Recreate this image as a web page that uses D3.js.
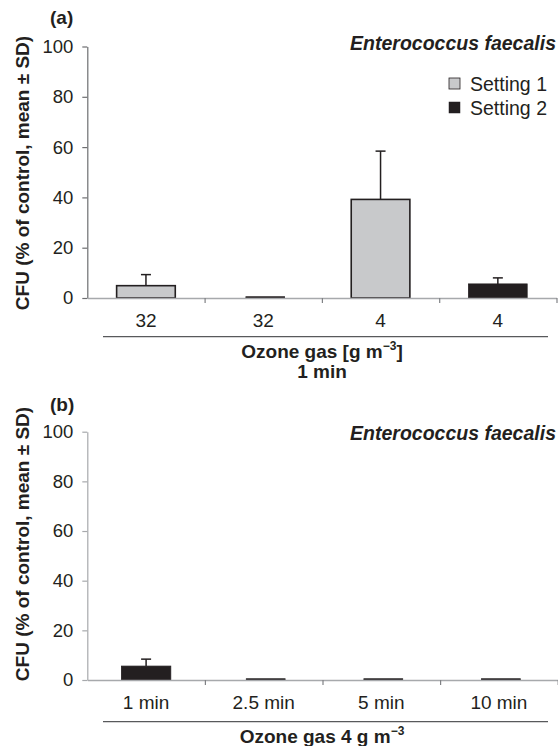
<!DOCTYPE html>
<html><head><meta charset="utf-8">
<script src="https://cdn.jsdelivr.net/npm/d3@7"></script>
<style>body{margin:0;background:#fff} text{font-family:"Liberation Sans",Arial,sans-serif;fill:#231f20}</style>
</head><body>
<svg id="c" width="558" height="746"></svg>
<script>
// ---- data ----
const categoriesA = ["32", "32", "4", "4"];
const seriesA = ["Setting 1", "Setting 2", "Setting 1", "Setting 2"];
const valuesA = [4.9, 0.5, 39.2, 5.6];
const errA = [9.3, null, 58.4, 8.0];       // top of SD whisker
const categoriesB = ["1 min", "2.5 min", "5 min", "10 min"];
const seriesB = ["Setting 2", "Setting 2", "Setting 2", "Setting 2"];
const valuesB = [5.6, 0.5, 0.5, 0.5];
const errB = [8.4, null, null, null];
const yTicks = [0, 20, 40, 60, 80, 100];
const legendSeries = ["Setting 1", "Setting 2"];
const organism = "Enterococcus faecalis";
const yTitle = "CFU (% of control, mean \u00B1 SD)";

const fillOf = {"Setting 1": "#c8c9cb", "Setting 2": "#231f20"};
const svg = d3.select("#c");

function panel(o) {
  const g = svg.append("g");
  const y = d3.scaleLinear().domain([0, 100]).range([o.y0, o.y100]);
  const x = d3.scaleBand().domain(d3.range(o.cats.length)).range([o.x0, o.x1]).padding(0);
  const xi = d3.scaleLinear().domain([0, o.cats.length]).range([o.x0, o.x1]);

  // y axis
  const ya = g.append("g").attr("transform", `translate(${o.x0},0)`)
    .call(d3.axisLeft(y).tickValues(yTicks).tickSize(5).tickPadding(9).tickSizeOuter(0));
  ya.select(".domain").attr("stroke", o.yAxisColor).attr("stroke-width", 1.2);
  ya.selectAll(".tick line").attr("stroke", o.yAxisColor).attr("stroke-width", 1.2);
  ya.selectAll("text").attr("font-size", 18.5).attr("fill", "#231f20").attr("font-family", "Liberation Sans, Arial, sans-serif");

  // bars
  o.vals.forEach((v, i) => {
    const bw = x.bandwidth() * o.widthFrac(i, v);
    const cx = x(i) + x.bandwidth() / 2 + (v < 1 ? 2 : 0);
    const s = o.series[i];
    g.append("rect")
      .attr("x", cx - bw / 2).attr("width", bw)
      .attr("y", y(v)).attr("height", y(0) - y(v))
      .attr("fill", fillOf[s])
      .attr("stroke", "#231f20").attr("stroke-width", s === "Setting 1" ? 1.6 : 0.8);
    if (o.err[i] != null) {
      g.append("line").attr("x1", cx).attr("x2", cx).attr("y1", y(v)).attr("y2", y(o.err[i]))
        .attr("stroke", "#231f20").attr("stroke-width", 1.5);
      g.append("line").attr("x1", cx - 5).attr("x2", cx + 5).attr("y1", y(o.err[i])).attr("y2", y(o.err[i]))
        .attr("stroke", "#231f20").attr("stroke-width", 1.5);
    }
  });

  // x axis: boundary ticks
  const xa = g.append("g").attr("transform", `translate(0,${o.y0})`)
    .call(d3.axisBottom(xi).tickValues(d3.range(1, o.cats.length + 1)).tickFormat("").tickSize(5).tickSizeOuter(0));
  xa.select(".domain").attr("stroke", "#a7a9ac").attr("stroke-width", 1.4);
  xa.selectAll(".tick line").attr("stroke", "#808285").attr("stroke-width", 1.2);
  // category labels
  const xl = g.append("g").attr("transform", `translate(0,${o.y0})`)
    .call(d3.axisBottom(x).tickFormat(i => o.cats[i]).tickSize(0).tickPadding(o.labelPad));
  xl.select(".domain").remove();
  xl.selectAll("text").attr("font-size", 19).attr("fill", "#231f20").attr("font-family", "Liberation Sans, Arial, sans-serif");

  // separator line
  g.append("line").attr("x1", 103).attr("x2", 548).attr("y1", o.y0 + o.sepOff).attr("y2", o.y0 + o.sepOff)
    .attr("stroke", "#58595b").attr("stroke-width", 1.3);

  // x title
  const t = g.append("text").attr("x", 322).attr("y", o.y0 + o.titleOff).attr("text-anchor", "middle")
    .attr("font-weight", "bold").attr("font-size", 19);
  t.append("tspan").text(o.titleA);
  t.append("tspan").text("\u22123").attr("font-size", 12).attr("dy", -8);
  t.append("tspan").text(o.titleB).attr("dy", 8);
  if (o.title2) {
    g.append("text").attr("x", 322).attr("y", o.y0 + o.title2Off).attr("text-anchor", "middle")
      .attr("font-weight", "bold").attr("font-size", 19).text(o.title2);
  }

  // y title
  g.append("text").attr("transform", `translate(29,${o.yTitleC}) rotate(-90)`).attr("text-anchor", "middle")
    .attr("font-weight", "bold").attr("font-size", 19).text(yTitle);

  // panel label
  g.append("text").attr("x", 50).attr("y", o.labelY).attr("font-weight", "bold").attr("font-size", 19).text(o.label);

  // organism
  g.append("text").attr("x", 556).attr("y", o.orgY).attr("text-anchor", "end")
    .attr("font-weight", "bold").attr("font-style", "italic").attr("font-size", 19.5).text(organism);

  if (o.legend) {
    legendSeries.forEach((s, i) => {
      const ly = 83.5 + i * 24;
      g.append("rect").attr("x", 449).attr("y", ly - 5.5).attr("width", 11).attr("height", 11)
        .attr("fill", fillOf[s]).attr("stroke", "#231f20").attr("stroke-width", s === "Setting 1" ? 0.8 : 0.5);
      g.append("text").attr("x", 470).attr("y", ly + 7).attr("font-size", 19.5).text(s);
    });
  }
}

panel({
  cats: categoriesA, series: seriesA, vals: valuesA, err: errA,
  x0: 87.3, x1: 556.5, y0: 298, y100: 46.5, yAxisColor: "#6d6e71",
  widthFrac: (i, v) => v < 1 ? 0.33 : 0.5,
  labelPad: 15.5, sepOff: 38.7, titleOff: 59.5, titleA: "Ozone gas [g m", titleB: "]",
  title2: "1 min", title2Off: 80, yTitleC: 173, label: "(a)", labelY: 24, orgY: 50, legend: true
});
panel({
  cats: categoriesB, series: seriesB, vals: valuesB, err: errB,
  x0: 87.3, x1: 557.7, y0: 680, y100: 431.7, yAxisColor: "#a7a9ac",
  widthFrac: (i, v) => v < 1 ? 0.33 : 0.42,
  labelPad: 16, sepOff: 41.7, titleOff: 63, titleA: "Ozone gas 4 g m", titleB: "",
  title2: null, yTitleC: 544, label: "(b)", labelY: 411, orgY: 440, legend: false
});
</script>
</body></html>
